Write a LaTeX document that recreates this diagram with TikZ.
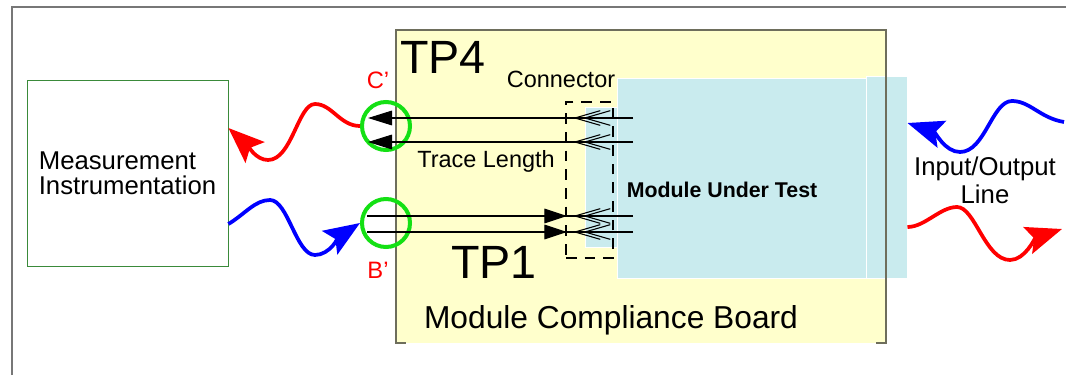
\documentclass[tikz,border=0pt]{standalone}
\usepackage{fontspec}
\setmainfont{Liberation Sans}
\usepackage{tikz}
\usetikzlibrary{arrows.meta,calc,positioning,decorations.markings}
\definecolor{boardyellow}{HTML}{FFFFCC}
\definecolor{mutblue}{HTML}{C9EBEE}
\definecolor{boardedge}{HTML}{6E6E5C}
\definecolor{instgreen}{HTML}{3A8A3A}
\definecolor{probegreen}{HTML}{14E014}
\definecolor{framegray}{HTML}{777777}
\newcommand{\fsz}[2]{\fontsize{#1}{#2}\selectfont}
\tikzset{
  wave/.style={line width=2.8pt,-{Stealth[length=27pt,width=21pt,inset=5pt]}},
  outtrace/.style={line width=0.8pt,draw=black,-{Triangle[length=18pt,width=11pt]},
    postaction={decorate},
    decoration={markings,
      mark=at position 37.5pt with {\arrow{Straight Barb[length=19pt,width=11pt]}},
      mark=at position 45pt with {\arrow{Straight Barb[length=19pt,width=11pt]}}}},
  intrace/.style={line width=0.8pt,draw=black,
    postaction={decorate},
    decoration={markings,
      mark=at position 37.5pt with {\arrow{Straight Barb[length=19pt,width=11pt]}},
      mark=at position 45pt with {\arrow{Straight Barb[length=19pt,width=11pt]}},
      mark=at position 49.5pt with {\arrowreversed{Triangle[length=17pt,width=11pt]}}}},
  board/.style={fill=boardyellow,inner sep=0pt,minimum width=367.5pt,minimum height=234.75pt},
  mut/.style={fill=mutblue,draw=white,line width=0.7pt,inner sep=0pt},
  conn/.style={draw=black,line width=0.8pt,dash pattern=on 8pt off 6pt,inner sep=0pt,
               minimum width=35.25pt,minimum height=117pt},
  instbox/.style={draw=instgreen,line width=0.6pt,align=left,inner sep=0pt,
                  minimum width=150.75pt,minimum height=139.5pt,font=\fsz{19.3}{18.8}},
  ring/.style={circle,draw=probegreen,line width=3pt,minimum size=36pt,inner sep=0pt},
  tplabel/.style={text=red,inner sep=0pt,font=\fsz{17.8}{20}},
  tpbig/.style={inner sep=0pt,font=\fsz{35}{40}},
  lbl/.style={inner sep=0pt,font=\fsz{17.6}{20}}
}
\begin{document}
\begin{tikzpicture}[x=0.75pt,y=-0.75pt]
  \useasboundingbox (0,0) rectangle (1066,375);
  \draw[framegray,line width=1.5pt] (12,375) -- (12,7) -- (1066,7);
  % board with module under test
  \node[board] (board) at (641,186.5) {};
  \node[mut,minimum width=24pt,minimum height=105pt] (mutedge) at (601,177) {};
  \node[mut,minimum width=186.75pt,minimum height=150pt] (mut) at (741.5,178) {};
  \node[mut,minimum width=30.75pt,minimum height=151.5pt] (mutext) at (886.5,177) {};
  \draw[boardedge,line width=1.2pt] ($(board.south west)+(10,0)$) -- (board.south west)
    -- (board.north west) -- (board.north east) -- (board.south east) -- ($(board.south east)+(-10,0)$);
  \node[conn] (conn) at (589.5,180) {};
  \node[instbox] (meas) at (127.5,173) {Measurement\\Instrumentation};
  % test points
  \node[ring] (cC) at (386,126) {};
  \node[ring] (cB) at (386,223) {};
  \node[tplabel,above=8pt of cC,xshift=-6pt] (lblC) {C’};
  \node[tplabel,below=10pt of cB,xshift=-6pt] (lblB) {B’};
  % traces
  \coordinate (m1) at (633,118); \coordinate (m2) at (633,142);
  \coordinate (m3) at (633,216); \coordinate (m4) at (633,232);
  \coordinate (c1) at (368,118); \coordinate (c2) at (368,142);
  \coordinate (b1) at (367,216); \coordinate (b2) at (367,232);
  \draw[outtrace] (m1) -- (c1);
  \draw[outtrace] (m2) -- (c2);
  \draw[intrace] (m3) -- (b1);
  \draw[intrace] (m4) -- (b2);
  % signal waves
  \coordinate (mC) at ($(meas.east)+(0,-45)$);
  \coordinate (mB) at ($(meas.east)+(0,51)$);
  \coordinate (eB) at ($(mutext.east)+(0,-54)$);
  \coordinate (eR) at ($(mutext.east)+(0,50)$);
  \coordinate (ioB) at (1064,122);
  \coordinate (ioR) at (1062,229);
  \draw[wave,red] (cC.west) .. controls (340,126) and (332,104) .. (315,104)
    .. controls (298,104) and (292,160) .. (268,160) .. controls (256,160) and (248,146) .. (mC);
  \draw[wave,blue] (mB) .. controls (245,214) and (255,200) .. (270,200)
    .. controls (288,200) and (296,255) .. (315,255) .. controls (330,255) and (340,236) .. (cB.west);
  \draw[wave,blue] (ioB) .. controls (1040,118) and (1030,101) .. (1012,101)
    .. controls (992,101) and (985,152) .. (960,152) .. controls (945,152) and (935,132) .. (eB);
  \draw[wave,red] (eR) .. controls (925,227) and (940,207) .. (957,207)
    .. controls (975,207) and (985,260) .. (1010,260) .. controls (1025,260) and (1035,238) .. (ioR);
  % labels
  \node[tpbig,anchor=base west] (tp4) at (400,73) {TP4};
  \node[tpbig,anchor=base] (tp1) at (494,278) {TP1};
  \node[lbl,anchor=base] (connlbl) at (561,87) {Connector};
  \node[lbl,anchor=base] (tracelbl) at (486,167) {Trace Length};
  \node[inner sep=0pt,font=\bfseries\fsz{16}{19},anchor=base] (mutlbl) at (722,197) {Module Under Test};
  \node[inner sep=0pt,font=\fsz{23.8}{28},anchor=base] (boardlbl) at (611,328) {Module Compliance Board};
  \node[inner sep=0pt,align=center,font=\fsz{19.3}{21}] (io) at (985,180) {Input/Output\\Line};
\end{tikzpicture}
\end{document}
